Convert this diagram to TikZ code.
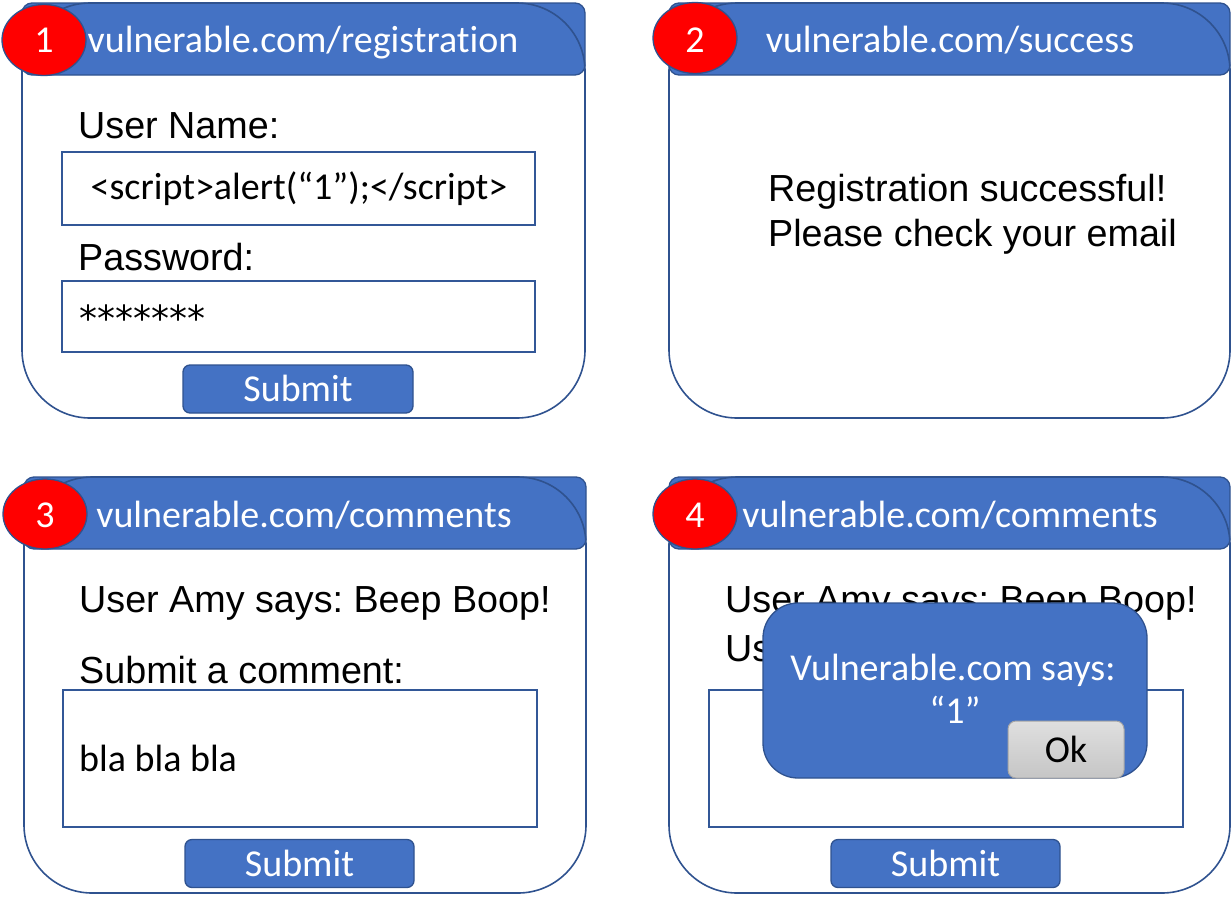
\documentclass[tikz,border=0pt]{standalone}
\usepackage{fontspec}
\setmainfont{Liberation Sans}
\newfontfamily\calib[Ligatures={NoCommon}]{Carlito}
\newfontfamily\djv{DejaVu Sans}
\usetikzlibrary{shapes.geometric}
\definecolor{hblue}{HTML}{4472C4}
\definecolor{dblue}{HTML}{2F528F}
\definecolor{bred}{HTML}{FF0000}
\frenchspacing
\tikzset{
  bodybox/.style={draw=dblue, line width=1.6pt, rounded corners=68pt, inner sep=0pt},
  headbox/.style={draw=dblue, fill=hblue, line width=1.3pt, rounded corners=10pt, inner sep=0pt},
  badge/.style={ellipse, draw=dblue, fill=bred, line width=1.3pt, inner sep=0pt, minimum width=84pt, minimum height=71pt},
  inbox/.style={draw=dblue!85!hblue, line width=1.3pt, fill=white, inner sep=0pt},
  btn/.style={draw=dblue, fill=hblue, line width=1.3pt, rounded corners=7pt, inner sep=0pt, minimum width=229pt, minimum height=48pt},
  wtxt/.style={text=white, font=\calib\fontsize{38}{45}\selectfont, inner sep=0pt, anchor=base},
  btxt/.style={text=black, font=\fontsize{37.7}{45}\selectfont, inner sep=0pt, anchor=base west},
  ctxt/.style={text=black, font=\calib\fontsize{38}{45}\selectfont, inner sep=0pt},
  popup/.style={draw=dblue, fill=hblue, line width=1.3pt, rounded corners=35pt, inner sep=0pt},
  okbtn/.style={draw=gray!70, top color=gray!25, bottom color=gray!45, line width=1pt, rounded corners=8pt, inner sep=0pt}
}
\begin{document}
\begin{tikzpicture}[x=1pt, y=-1pt]
\useasboundingbox (0,0) rectangle (1231,908);
% ---------- Panel 1 ----------
\node[headbox, minimum width=563pt, minimum height=72pt] (h1) at (303.5,39) {};
\node[bodybox, minimum width=563pt, minimum height=415pt] (b1) at (303.5,210.5) {};
\node[badge] (c1) at (44,40) {};
\node[wtxt] (n1) at (44,52) {1};
\node[wtxt] (u1) at (303,52) {vulnerable.com/registration};
\node[btxt] (l1a) at (78,138) {User Name:};
\node[inbox, minimum width=473pt, minimum height=73pt] (i1a) at (298.5,188.5) {};
\node[ctxt, anchor=base] (s1) at (299,199) {<script>alert(“1”);</script>};
\node[btxt] (l1b) at (78,270) {Password:};
\node[inbox, minimum width=473pt, minimum height=71pt] (i1b) at (298.5,316.5) {};
\node[text=black, font=\djv\fontsize{36}{44}\selectfont, inner sep=0pt, anchor=base west] (p1) at (79,331) {*******};
\node[btn, minimum width=230pt] (sb1) at (298,389) {};
\node[wtxt] (st1) at (298,401) {Submit};
% ---------- Panel 2 ----------
\node[headbox, minimum width=561pt, minimum height=72pt] (h2) at (949.5,39) {};
\node[bodybox, minimum width=561pt, minimum height=415pt] (b2) at (949.5,210.5) {};
\node[badge] (c2) at (695,38) {};
\node[wtxt] (n2) at (695,52) {2};
\node[wtxt] (u2) at (950,52) {vulnerable.com/success};
\node[btxt] (r2a) at (768,201) {Registration successful!};
\node[btxt] (r2b) at (768,246) {Please check your email};
% ---------- Panel 3 ----------
\node[headbox, minimum width=562pt, minimum height=72pt] (h3) at (305,513) {};
\node[bodybox, minimum width=562pt, minimum height=416pt] (b3) at (305,685) {};
\node[badge, minimum height=70pt] (c3) at (45,514) {};
\node[wtxt] (n3) at (45,527) {3};
\node[wtxt] (u3) at (304,527) {vulnerable.com/comments};
\node[btxt] (a3) at (79,612) {User Amy says: Beep Boop!};
\node[btxt] (k3) at (79,683) {Submit a comment:};
\node[inbox, minimum width=474pt, minimum height=137pt] (i3) at (300,758.5) {};
\node[ctxt, anchor=base west] (bl3) at (79,771) {bla bla bla};
\node[btn] (sb3) at (299.5,863.5) {};
\node[wtxt] (st3) at (299.5,876) {Submit};
% ---------- Panel 4 ----------
\node[headbox, minimum width=561pt, minimum height=72pt] (h4) at (949.5,513) {};
\node[bodybox, minimum width=561pt, minimum height=416pt] (b4) at (949.5,685) {};
\node[badge, minimum height=70pt] (c4) at (695,514) {};
\node[wtxt] (n4) at (695,527) {4};
\node[wtxt] (u4) at (950,527) {vulnerable.com/comments};
\node[btxt] (a4) at (725,612) {User Amy says: Beep Boop!};
\node[btxt] (k4) at (725,661) {Us};
\node[inbox, minimum width=474pt, minimum height=137pt] (i4) at (946,758.5) {};
\node[btn] (sb4) at (945.5,863.5) {};
\node[wtxt] (st4) at (945.5,876) {Submit};
\node[popup, minimum width=384pt, minimum height=175pt] (pp) at (955,690.5) {};
\node[wtxt] (pt1) at (953,680) {Vulnerable.com says:};
\node[wtxt] (pt2) at (955,723) {“1”};
\node[okbtn, minimum width=116pt, minimum height=57pt] (ok) at (1066,749.5) {};
\node[ctxt, anchor=base] (okt) at (1066,762) {Ok};
\end{tikzpicture}
\end{document}
